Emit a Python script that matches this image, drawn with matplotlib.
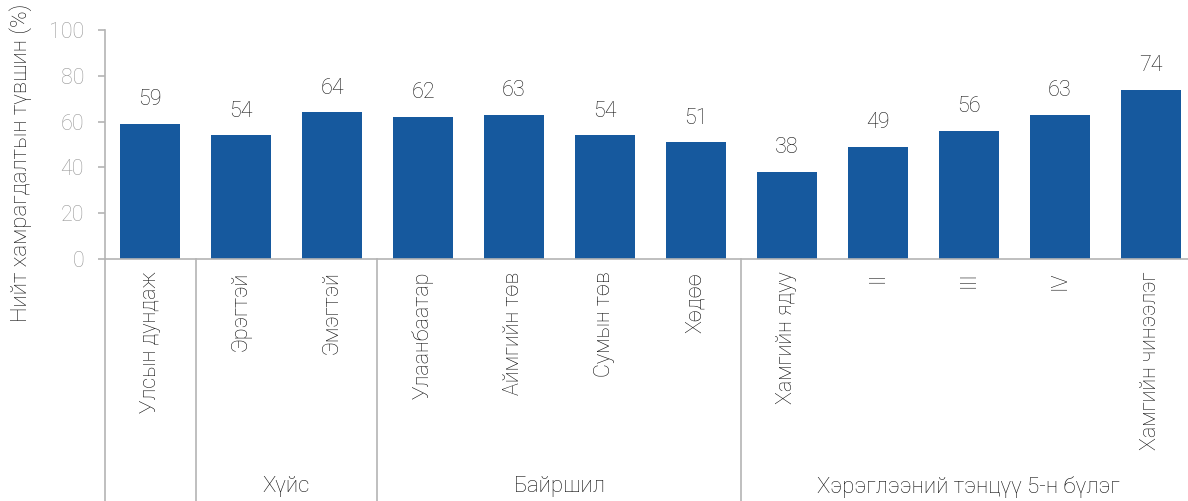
import matplotlib.pyplot as plt
from matplotlib.transforms import blended_transform_factory

plt.rcParams['font.family'] = ['Roboto', 'DejaVu Sans']
plt.rcParams['font.weight'] = 'light'

# data
categories = ["Улсын дундаж", "Эрэгтэй", "Эмэгтэй", "Улаанбаатар", "Аймгийн төв",
              "Сумын төв", "Хөдөө", "Хамгийн ядуу", "II", "III", "IV", "Хамгийн чинээлэг"]
values = [59, 54, 64, 62, 63, 54, 51, 38, 49, 56, 63, 74]
groups = ["Хүйс", "Байршил", "Хэрэглээний тэнцүү 5-н бүлэг"]
group_spans = [(1, 2), (3, 6), (7, 11)]

bar_color = '#16599e'
grey = '#b4b4b4'

fig = plt.figure(figsize=(11.88, 5.01), dpi=100)
ax = fig.add_axes([0.088, 0.483, 0.919, 0.457])

x = range(len(categories))
ax.bar(x, values, width=0.66, color=bar_color)
for i, v in zip(x, values):
    ax.text(i, v + 6, str(v), ha='center', va='bottom', fontsize=15.5, color='#1a1a1a')

ax.set_xlim(-0.5, len(categories) - 0.5)
ax.set_ylim(0, 100)
ax.set_yticks(range(0, 101, 20))
ax.tick_params(axis='y', colors=grey, labelcolor='#999999', labelsize=15.5, length=4.8, width=1.2, pad=10)
ax.set_xticks(list(x))
ax.set_xticklabels(categories, rotation=90, va='top', ha='center', fontsize=15.5, color='#111111')
ax.tick_params(axis='x', length=0, pad=9)

for s in ['top', 'right']:
    ax.spines[s].set_visible(False)
ax.spines['left'].set_color(grey)
ax.spines['bottom'].set_color(grey)
ax.spines['left'].set_linewidth(1.2)
ax.spines['bottom'].set_linewidth(1.2)

ax.set_ylabel("Нийт хамрагдалтын түвшин (%)", fontsize=16, color='#111111', fontweight='light')
ax.yaxis.set_label_coords(-0.066, 0.42)

trans = blended_transform_factory(ax.transData, ax.transAxes)
# group separators below the axis
for xs in [-0.5, 0.5, 2.5, 6.5]:
    ax.plot([xs, xs], [0, -1.1], color=grey, lw=1.2, transform=trans, clip_on=False)
for name, (a, b) in zip(groups, group_spans):
    ax.text((a + b) / 2, -0.995, name, transform=trans, ha='center', va='center',
            fontsize=16, color='#111111')

plt.savefig("out.png", dpi=100)
